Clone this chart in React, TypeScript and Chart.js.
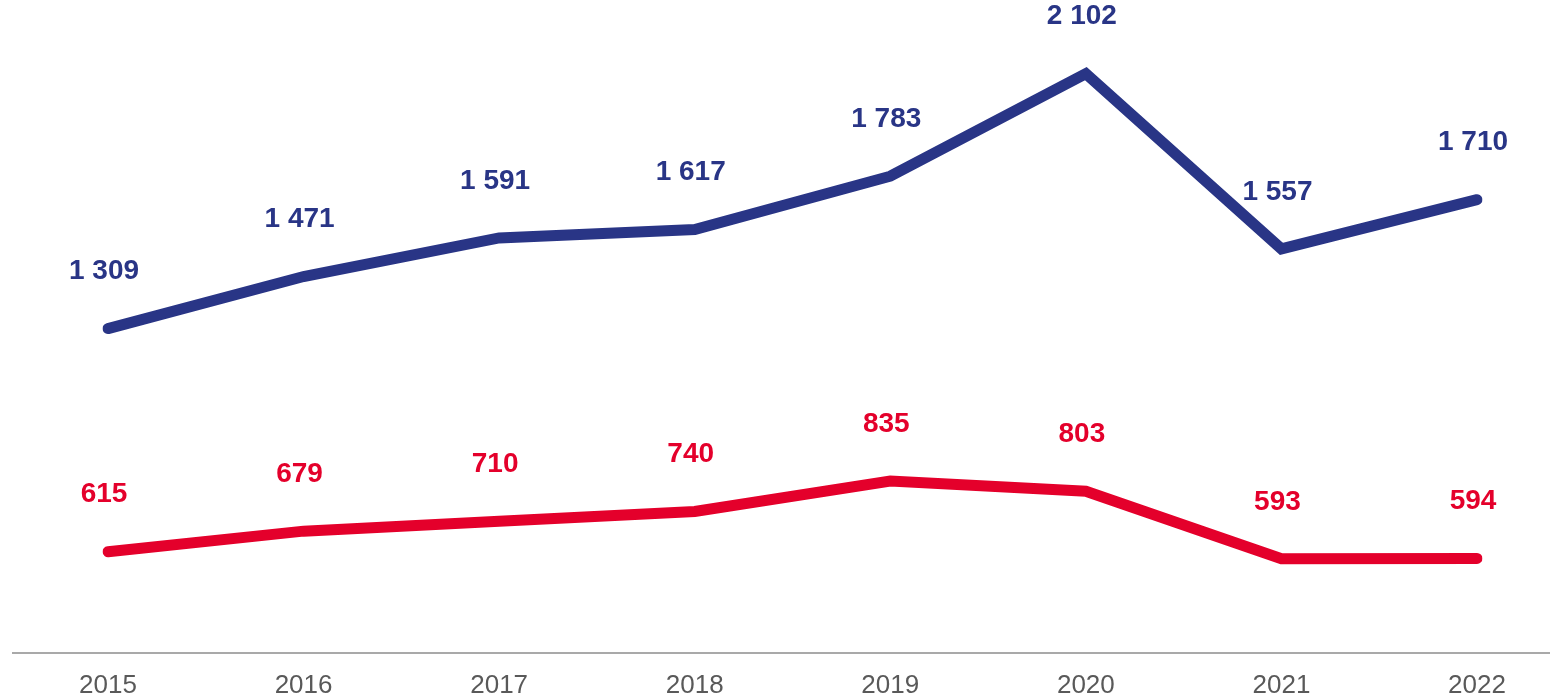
import React, { useEffect, useRef } from "react";
import { Chart, registerables } from "chart.js";

Chart.register(...registerables);

const years = ["2015", "2016", "2017", "2018", "2019", "2020", "2021", "2022"];
const blueValues = [1309, 1471, 1591, 1617, 1783, 2102, 1557, 1710];
const redValues = [615, 679, 710, 740, 835, 803, 593, 594];

const BLUE = "#293586";
const RED = "#E4002B";

const fmt = (v: number) => {
  const s = String(v);
  return s.replace(/\B(?=(\d{3})+(?!\d))/g, " ");
};

const labelPlugin = {
  id: "valueLabels",
  afterDatasetsDraw(chart: any) {
    const ctx = chart.ctx;
    ctx.save();
    ctx.font = "bold 28px 'Liberation Sans', Arial, sans-serif";
    ctx.textAlign = "center";
    ctx.textBaseline = "middle";
    chart.data.datasets.forEach((ds: any, di: number) => {
      const meta = chart.getDatasetMeta(di);
      ctx.fillStyle = ds.borderColor;
      meta.data.forEach((pt: any, i: number) => {
        ctx.fillText(fmt(ds.data[i]), pt.x - 4, pt.y - 57);
      });
    });
    ctx.restore();
  },
};

const axisPlugin = {
  id: "axisLine",
  beforeDatasetsDraw(chart: any) {
    const ctx = chart.ctx;
    const y = chart.chartArea.bottom;
    ctx.save();
    ctx.strokeStyle = "#8C8C8C";
    ctx.lineWidth = 1.5;
    ctx.beginPath();
    ctx.moveTo(12, y);
    ctx.lineTo(1550, y);
    ctx.stroke();
    const xScale = chart.scales.x;
    ctx.fillStyle = "#595959";
    ctx.font = "26px 'Liberation Sans', Arial, sans-serif";
    ctx.textAlign = "center";
    ctx.textBaseline = "middle";
    (chart.data.labels as string[]).forEach((lab, i) => {
      ctx.fillText(lab, xScale.getPixelForValue(i), y + 33);
    });
    ctx.restore();
  },
};

export default function App() {
  const ref = useRef<HTMLCanvasElement | null>(null);
  useEffect(() => {
    document.body.style.margin = "0";
    const chart = new Chart(ref.current as HTMLCanvasElement, {
      type: "line",
      data: {
        labels: years,
        datasets: [
          {
            data: blueValues,
            borderColor: BLUE,
            borderWidth: 11,
            borderCapStyle: "round",
            borderJoinStyle: "miter",
            pointRadius: 0,
            tension: 0,
          },
          {
            data: redValues,
            borderColor: RED,
            borderWidth: 11,
            borderCapStyle: "round",
            borderJoinStyle: "miter",
            pointRadius: 0,
            tension: 0,
          },
        ],
      },
      options: {
        animation: false,
        responsive: false,
        layout: { padding: { left: 108, right: 86, top: 10, bottom: 45 } },
        plugins: { legend: { display: false }, tooltip: { enabled: false } },
        scales: {
          x: {
            display: false,
            offset: false,
          },
          y: {
            display: false,
            min: 300,
            max: 2300,
          },
        },
      },
      plugins: [axisPlugin, labelPlugin],
    });
    return () => chart.destroy();
  }, []);
  return <canvas ref={ref} width={1563} height={698} style={{ display: "block" }} />;
}
